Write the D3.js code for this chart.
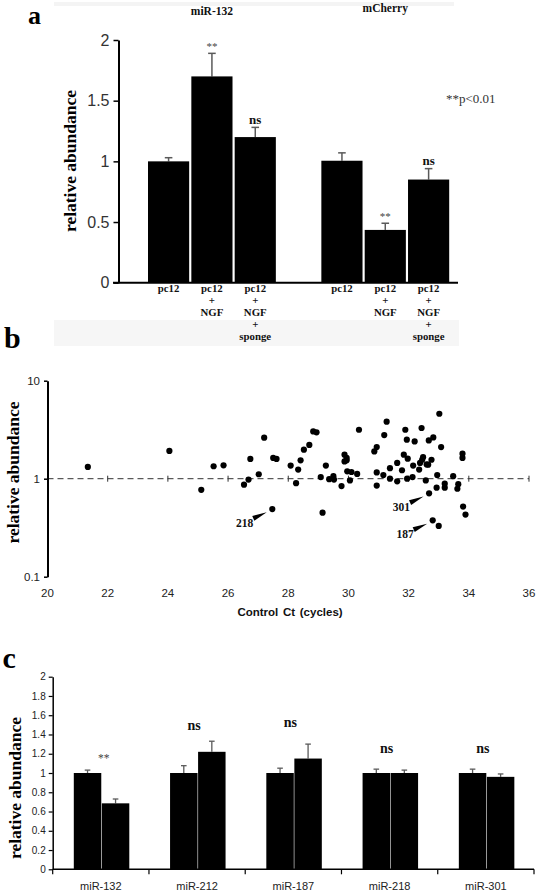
<!DOCTYPE html>
<html>
<head>
<meta charset="utf-8">
<script src="https://cdn.jsdelivr.net/npm/d3@7"></script>
<style>
  html, body { margin: 0; padding: 0; background: #fff; }
  svg { display: block; }
</style>
</head>
<body>
<svg id="chart" width="538" height="893"></svg>
<script>
// ---------------- DATA ----------------
// Panel a
const groupsA = ["miR-132", "mCherry"];
const conditionsA = [["pc12"], ["pc12", "+", "NGF"], ["pc12", "+", "NGF", "+", "sponge"]];
const valuesA_miR132 = [1.0, 1.70, 1.20];
const errorsA_miR132 = [0.03, 0.19, 0.08];
const valuesA_mCherry = [1.005, 0.435, 0.85];
const errorsA_mCherry = [0.065, 0.055, 0.09];
const sigA_miR132 = ["", "**", "ns"];
const sigA_mCherry = ["", "**", "ns"];
const ticksA = [0, 0.5, 1, 1.5, 2];

// Panel b
const ctValues = [21.34, 24.05, 25.11, 25.52, 25.85, 26.53, 26.68, 26.74, 27.02, 27.2, 27.47, 27.5, 27.61,
  28.08, 28.26, 28.33, 28.41, 28.52, 28.70, 28.83, 28.94, 29.08, 29.14, 29.25, 29.36, 29.50, 29.52, 29.77,
  29.87, 29.94, 29.87, 29.94, 29.96, 30.05, 30.1, 30.29, 30.35,
  30.86, 30.94, 30.94, 30.94, 31.16, 31.19, 31.27, 31.38, 31.38, 31.62, 31.62, 31.78, 31.84, 31.89, 31.94,
  31.97, 31.95, 32.13, 32.15, 32.2, 32.35, 32.38, 32.43, 32.45, 32.48, 32.57, 32.60, 32.65, 32.67, 32.68,
  32.76, 32.80, 32.82, 32.95, 32.93, 33.0, 33.02, 33.08, 33.2, 33.2, 33.48, 33.65, 33.62, 33.79, 33.79,
  33.81, 33.89];
const abundanceValues = [1.32, 1.92, 0.77, 1.34, 1.37, 0.87, 0.98, 1.59, 1.11, 2.62, 0.49, 1.63, 1.59,
  1.36, 0.90, 1.24, 1.54, 1.98, 2.21, 3.04, 2.97, 1.04, 0.45, 1.36, 0.99, 1.06, 0.98, 0.84,
  1.76, 1.63, 1.50, 1.54, 1.19, 0.96, 1.17, 1.12, 3.16,
  1.90, 2.10, 1.16, 0.85, 1.09, 2.79, 3.82, 1.28, 1.0, 1.45, 0.94, 1.22, 1.76, 3.16, 2.50,
  1.60, 1.0, 1.04, 1.36, 2.40, 1.24, 1.45, 3.29, 1.56, 1.66, 0.96, 1.40, 1.39, 2.46, 0.71,
  1.56, 0.376, 2.64, 1.09, 0.81, 0.33, 4.60, 2.10, 0.89, 0.81, 1.06, 0.88, 0.79, 1.80, 1.63,
  0.52, 0.43];
const calloutIds = ["218", "301", "187"];
const calloutCt = [27.47, 32.68, 32.80];
const calloutAbundance = [0.49, 0.71, 0.376];
const ticksBx = [20, 22, 24, 26, 28, 30, 32, 34, 36];
const ticksBy = [0.1, 1, 10];

// Panel c
const categoriesC = ["miR-132", "miR-212", "miR-187", "miR-218", "miR-301"];
const controlC = [1.0, 1.0, 1.0, 1.0, 1.0];
const controlErrC = [0.03, 0.076, 0.05, 0.04, 0.04];
const treatedC = [0.685, 1.22, 1.15, 1.0, 0.96];
const treatedErrC = [0.045, 0.11, 0.15, 0.03, 0.03];
const sigC = ["**", "ns", "ns", "ns", "ns"];
const sigLevelC = [1.114, 1.447, 1.478, 1.208, 1.208];
const ticksC = [0, 0.2, 0.4, 0.6, 0.8, 1, 1.2, 1.4, 1.6, 1.8, 2];

// ---------------- DRAW ----------------
const SERIF = "'Liberation Serif', 'Times New Roman', serif";
const SANS = "'Liberation Sans', Arial, sans-serif";
const svg = d3.select("#chart");

// faint background strips
svg.append("rect").attr("x", 54).attr("y", 2).attr("width", 400).attr("height", 4).attr("fill", "#f4f4f4");
svg.append("rect").attr("x", 54).attr("y", 320).attr("width", 405).attr("height", 26).attr("fill", "#f6f6f6");

// panel letters
[["a", 28, 23.5, 26], ["b", 4, 348, 30], ["c", 2.5, 668, 30]].forEach(([t, x, y, s]) => {
  svg.append("text").attr("x", x).attr("y", y).text(t)
    .attr("font-family", SERIF).attr("font-weight", "bold").attr("font-size", s).attr("fill", "#000");
});

function yLabel(g, cx, cy) {
  g.append("text").attr("transform", `translate(${cx},${cy}) rotate(-90)`)
    .attr("text-anchor", "middle").attr("dy", "0.35em")
    .attr("font-family", SERIF).attr("font-weight", "bold").attr("font-size", 17.5)
    .attr("fill", "#000").text("relative abundance");
}

// ===== Panel a =====
const gA = svg.append("g");
const yA = d3.scaleLinear().domain([0, 2]).range([282.7, 40]);
const slotsA = ["m0", "m1", "m2", "gap", "c0", "c1", "c2"];
const xA = d3.scaleBand().domain(slotsA).range([148, 449.2]).paddingInner(0.05);
const barsA = [];
valuesA_miR132.forEach((v, i) => barsA.push({ slot: "m" + i, v, e: errorsA_miR132[i], sig: sigA_miR132[i], cond: conditionsA[i] }));
valuesA_mCherry.forEach((v, i) => barsA.push({ slot: "c" + i, v, e: errorsA_mCherry[i], sig: sigA_mCherry[i], cond: conditionsA[i] }));

// error bars (behind bars)
barsA.forEach(d => {
  const cx = xA(d.slot) + xA.bandwidth() / 2;
  gA.append("line").attr("x1", cx).attr("x2", cx).attr("y1", yA(d.v)).attr("y2", yA(d.v + d.e))
    .attr("stroke", "#5a5a5a").attr("stroke-width", 1.5);
  gA.append("line").attr("x1", cx - 3.8).attr("x2", cx + 3.8).attr("y1", yA(d.v + d.e)).attr("y2", yA(d.v + d.e))
    .attr("stroke", "#5a5a5a").attr("stroke-width", 1.5);
});
gA.selectAll("rect.bar").data(barsA).join("rect").attr("class", "bar")
  .attr("x", d => xA(d.slot)).attr("width", xA.bandwidth())
  .attr("y", d => yA(d.v)).attr("height", d => yA(0) - yA(d.v)).attr("fill", "#000");

// significance labels
barsA.filter(d => d.sig).forEach(d => {
  const cx = xA(d.slot) + xA.bandwidth() / 2;
  const isStar = d.sig === "**";
  gA.append("text").attr("x", cx).attr("y", yA(d.v + d.e) - 3.5 + (isStar ? 0.5 : 0))
    .attr("text-anchor", "middle").attr("font-family", SERIF)
    .attr("font-weight", isStar ? "normal" : "bold").attr("font-size", isStar ? 11 : 13)
    .attr("fill", isStar ? "#444" : "#111").text(d.sig);
});

// axes
const axA = gA.append("g").attr("transform", "translate(118.5,0)")
  .call(d3.axisLeft(yA).tickValues(ticksA).tickFormat(d => String(d)).tickSize(5).tickSizeOuter(0).tickPadding(4));
axA.select(".domain").attr("stroke", "#000").attr("stroke-width", 2);
axA.selectAll(".tick line").attr("stroke", "#000").attr("stroke-width", 1.5);
axA.selectAll(".tick text").attr("font-family", SANS).attr("font-size", 16).attr("fill", "#333");
gA.append("line").attr("x1", 113).attr("x2", 458).attr("y1", yA(0)).attr("y2", yA(0))
  .attr("stroke", "#000").attr("stroke-width", 2);

// category labels (one text per line)
barsA.forEach(d => {
  const cx = xA(d.slot) + xA.bandwidth() / 2;
  d.cond.forEach((line, k) => {
    gA.append("text").attr("x", cx).attr("y", 292 + k * 12).attr("text-anchor", "middle")
      .attr("font-family", SERIF).attr("font-weight", "bold").attr("font-size", 10.8)
      .attr("fill", "#111").text(line);
  });
});

// group titles
const groupCenters = [
  (xA("m0") + xA("m2") + xA.bandwidth()) / 2,
  (xA("c0") + xA("c2") + xA.bandwidth()) / 2
];
[[groupsA[0], groupCenters[0], 15], [groupsA[1], groupCenters[1], 12]].forEach(([t, x, y]) => {
  gA.append("text").attr("x", x).attr("y", y).attr("text-anchor", "middle")
    .attr("font-family", SERIF).attr("font-weight", "bold").attr("font-size", 11.5).attr("fill", "#111").text(t);
});
gA.append("text").attr("x", 446).attr("y", 103).attr("font-family", SERIF).attr("font-size", 13)
  .attr("fill", "#333").text("**p<0.01");
yLabel(gA, 70, 161);

// ===== Panel b =====
const gB = svg.append("g");
const xB = d3.scaleLinear().domain([20, 36]).range([47.5, 529]);
const yB = d3.scaleLog().domain([0.1, 10]).range([576.7, 380.7]);

gB.append("line").attr("x1", xB(20)).attr("x2", xB(36)).attr("y1", yB(1)).attr("y2", yB(1))
  .attr("stroke", "#333").attr("stroke-width", 1).attr("stroke-dasharray", "6,4");
gB.selectAll("line.xt").data(ticksBx.slice(1)).join("line").attr("class", "xt")
  .attr("x1", d => xB(d)).attr("x2", d => xB(d)).attr("y1", yB(1) - 3).attr("y2", yB(1) + 3)
  .attr("stroke", "#333").attr("stroke-width", 1);
gB.selectAll("text.xl").data(ticksBx).join("text").attr("class", "xl")
  .attr("x", d => xB(d)).attr("y", 597).attr("text-anchor", "middle")
  .attr("font-family", SANS).attr("font-size", 11.5).attr("fill", "#222").text(d => d);

const axB = gB.append("g").attr("transform", `translate(${xB(20)},0)`)
  .call(d3.axisLeft(yB).tickValues(ticksBy).tickFormat(d => String(d)).tickSize(3.5).tickSizeOuter(0).tickPadding(4));
axB.select(".domain").attr("stroke", "#000").attr("stroke-width", 2);
axB.selectAll(".tick line").attr("stroke", "#000").attr("stroke-width", 1.5);
axB.selectAll(".tick text").attr("font-family", SANS).attr("font-size", 11.5).attr("fill", "#222");

const pts = ctValues.map((x, i) => ({ x, y: abundanceValues[i] }));
gB.selectAll("circle").data(pts).join("circle")
  .attr("cx", d => xB(d.x)).attr("cy", d => yB(d.y)).attr("r", 3.1).attr("fill", "#000");

calloutIds.forEach((id, i) => {
  const px = xB(calloutCt[i]), py = yB(calloutAbundance[i]);
  const tx = px - 19, ty = py + 9.3, hx = px - 5.6, hy = py + 3.3;
  const dx = hx - tx, dy = hy - ty, len = Math.hypot(dx, dy);
  const nx = -dy / len * 2.6, ny = dx / len * 2.6;
  gB.append("path").attr("d", `M${tx + nx},${ty + ny}L${hx},${hy}L${tx - nx},${ty - ny}Z`).attr("fill", "#000");
  gB.append("text").attr("x", px - 19).attr("y", py + 17.5).attr("text-anchor", "end")
    .attr("font-family", SERIF).attr("font-weight", "bold").attr("font-size", 11.5).attr("fill", "#111").text(id);
});
gB.append("text").attr("x", 290).attr("y", 616).attr("text-anchor", "middle")
  .attr("font-family", SANS).attr("font-weight", "bold").attr("font-size", 11.5).attr("fill", "#111")
  .attr("word-spacing", "1.5").text("Control Ct (cycles)");
yLabel(gB, 13, 472.5);

// ===== Panel c =====
const gC = svg.append("g");
const yC = d3.scaleLinear().domain([0, 2]).range([869.3, 676.7]);
const xC = d3.scaleBand().domain(categoriesC).range([52.7, 534]);
const xInner = d3.scaleBand().domain(["ctrl", "trt"]).range([21.1, 76.6]).paddingInner(0.02);
const barsC = [];
categoriesC.forEach((c, i) => {
  barsC.push({ c, k: "ctrl", v: controlC[i], e: controlErrC[i] });
  barsC.push({ c, k: "trt", v: treatedC[i], e: treatedErrC[i] });
});
barsC.forEach(d => {
  const cx = xC(d.c) + xInner(d.k) + xInner.bandwidth() / 2;
  gC.append("line").attr("x1", cx).attr("x2", cx).attr("y1", yC(d.v)).attr("y2", yC(d.v + d.e))
    .attr("stroke", "#5a5a5a").attr("stroke-width", 1.3);
  gC.append("line").attr("x1", cx - 2.8).attr("x2", cx + 2.8).attr("y1", yC(d.v + d.e)).attr("y2", yC(d.v + d.e))
    .attr("stroke", "#5a5a5a").attr("stroke-width", 1.3);
});
gC.selectAll("rect.bar").data(barsC).join("rect").attr("class", "bar")
  .attr("x", d => xC(d.c) + xInner(d.k)).attr("width", xInner.bandwidth())
  .attr("y", d => yC(d.v)).attr("height", d => yC(0) - yC(d.v)).attr("fill", "#000");

const axC = gC.append("g").attr("transform", "translate(52.7,0)")
  .call(d3.axisLeft(yC).tickValues(ticksC).tickFormat(d3.format(".1~f")).tickSize(4).tickSizeOuter(0).tickPadding(3));
axC.select(".domain").attr("stroke", "#000").attr("stroke-width", 1.5);
axC.selectAll(".tick line").attr("stroke", "#000").attr("stroke-width", 1.2);
axC.selectAll(".tick text").attr("font-family", SANS).attr("font-size", 10).attr("fill", "#222");

gC.append("line").attr("x1", 52.7).attr("x2", 534).attr("y1", yC(0)).attr("y2", yC(0))
  .attr("stroke", "#000").attr("stroke-width", 1.5);
const boundaries = categoriesC.map(c => xC(c)).concat([xC(categoriesC[categoriesC.length - 1]) + xC.step()]);
gC.selectAll("line.bt").data(boundaries).join("line").attr("class", "bt")
  .attr("x1", d => d).attr("x2", d => d).attr("y1", yC(0)).attr("y2", yC(0) + 5)
  .attr("stroke", "#000").attr("stroke-width", 1.2);
gC.selectAll("text.cl").data(categoriesC).join("text").attr("class", "cl")
  .attr("x", d => xC(d) + xC.bandwidth() / 2).attr("y", 890).attr("text-anchor", "middle")
  .attr("font-family", SANS).attr("font-size", 11).attr("fill", "#222").text(d => d);

categoriesC.forEach((c, i) => {
  const isStar = sigC[i] === "**";
  gC.append("text").attr("x", xC(c) + xC.bandwidth() / 2 + (isStar ? 3 : -3)).attr("y", yC(sigLevelC[i]))
    .attr("text-anchor", "middle").attr("font-family", SERIF)
    .attr("font-weight", isStar ? "normal" : "bold").attr("font-size", isStar ? 11.5 : 14)
    .attr("fill", isStar ? "#444" : "#111").text(sigC[i]);
});
yLabel(gC, 14.6, 788);
</script>
</body>
</html>
